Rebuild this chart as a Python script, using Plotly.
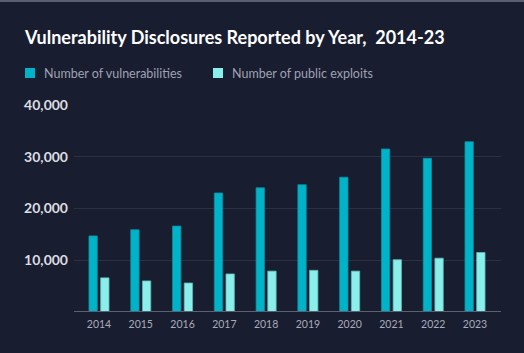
import plotly.graph_objects as go

years = [2014, 2015, 2016, 2017, 2018, 2019, 2020, 2021, 2022, 2023]
vulnerabilities = [14700, 15900, 16600, 23000, 24000, 24600, 26050, 31500, 29700, 32900]
public_exploits = [6600, 6000, 5600, 7350, 7900, 8050, 7900, 10100, 10400, 11500]
y_ticks = [10000, 20000, 30000, 40000]
y_tick_labels = ["10,000", "20,000", "30,000", "40,000"]
series_names = ["Number of vulnerabilities", "Number of public exploits"]

BG = "#191d30"
C_VULN = "#00b3c9"
C_EXP = "#8aeeea"

W, H = 524, 353
ML, MR, MT, MB = 74, 23, 105, 41
PW, PH = W - ML - MR, H - MT - MB


def px_x(px):
    return (px - ML) / PW


def px_y(py):
    return (H - MB - py) / PH


fig = go.Figure()
fig.add_trace(go.Bar(
    x=years, y=vulnerabilities, name=series_names[0],
    marker=dict(color=C_VULN, line=dict(color="#0a8fa0", width=0.8)),
    width=0.2, offset=-0.24,
))
fig.add_trace(go.Bar(
    x=years, y=public_exploits, name=series_names[1],
    marker=dict(color=C_EXP, line=dict(color="#5fb9b8", width=0.8)),
    width=0.2, offset=0.04,
))

legend_items = [(25, C_VULN, series_names[0]), (213, C_EXP, series_names[1])]
shapes = [
    dict(type="line", xref="paper", yref="y", x0=0, x1=1, y0=0, y1=0,
         line=dict(color="#5c6070", width=2), layer="above"),
    dict(type="rect", xref="paper", yref="paper", x0=px_x(0), x1=px_x(W),
         y0=px_y(2), y1=px_y(-1), fillcolor="#5a5e70", line=dict(width=0)),
]
annotations = []
for sx, col, name in legend_items:
    shapes.append(dict(type="rect", xref="paper", yref="paper",
                       x0=px_x(sx), x1=px_x(sx + 10), y0=px_y(78), y1=px_y(68),
                       fillcolor=col, line=dict(width=0)))
    annotations.append(dict(text=name, xref="paper", yref="paper",
                            x=px_x(sx + 17), y=px_y(73), xanchor="left", yanchor="middle",
                            showarrow=False,
                            font=dict(family="Lato", size=12.5, color="#9ea2b2")))

fig.update_layout(
    width=W, height=H,
    paper_bgcolor=BG, plot_bgcolor=BG,
    margin=dict(l=ML, r=MR, t=MT, b=MB, autoexpand=False),
    barmode="overlay",
    showlegend=False,
    title=dict(
        text="<b>Vulnerability Disclosures Reported by Year,  2014-23</b>",
        x=25 / W, xanchor="left", xref="container",
        y=1 - 38 / H, yanchor="middle", yref="container",
        font=dict(family="Lato", size=18, color="#ffffff"),
    ),
    xaxis=dict(
        range=[2013.402, 2023.622],
        tickvals=years, ticktext=[str(y) for y in years],
        showgrid=False, zeroline=False, showline=False,
        ticks="", ticklabelstandoff=4,
        tickfont=dict(family="Lato", size=10.5, color="#a8acba"),
        fixedrange=True,
    ),
    yaxis=dict(
        range=[0, 40000],
        tickvals=y_ticks, ticktext=y_tick_labels,
        showgrid=True, gridcolor="#2c3043", gridwidth=1,
        zeroline=False, showline=False, ticks="",
        ticklabelstandoff=5,
        tickfont=dict(family="Lato", size=14, color="#dcdde2", weight="bold"),
        fixedrange=True,
    ),
    shapes=shapes,
    annotations=annotations,
)

fig.write_html("out.html")
